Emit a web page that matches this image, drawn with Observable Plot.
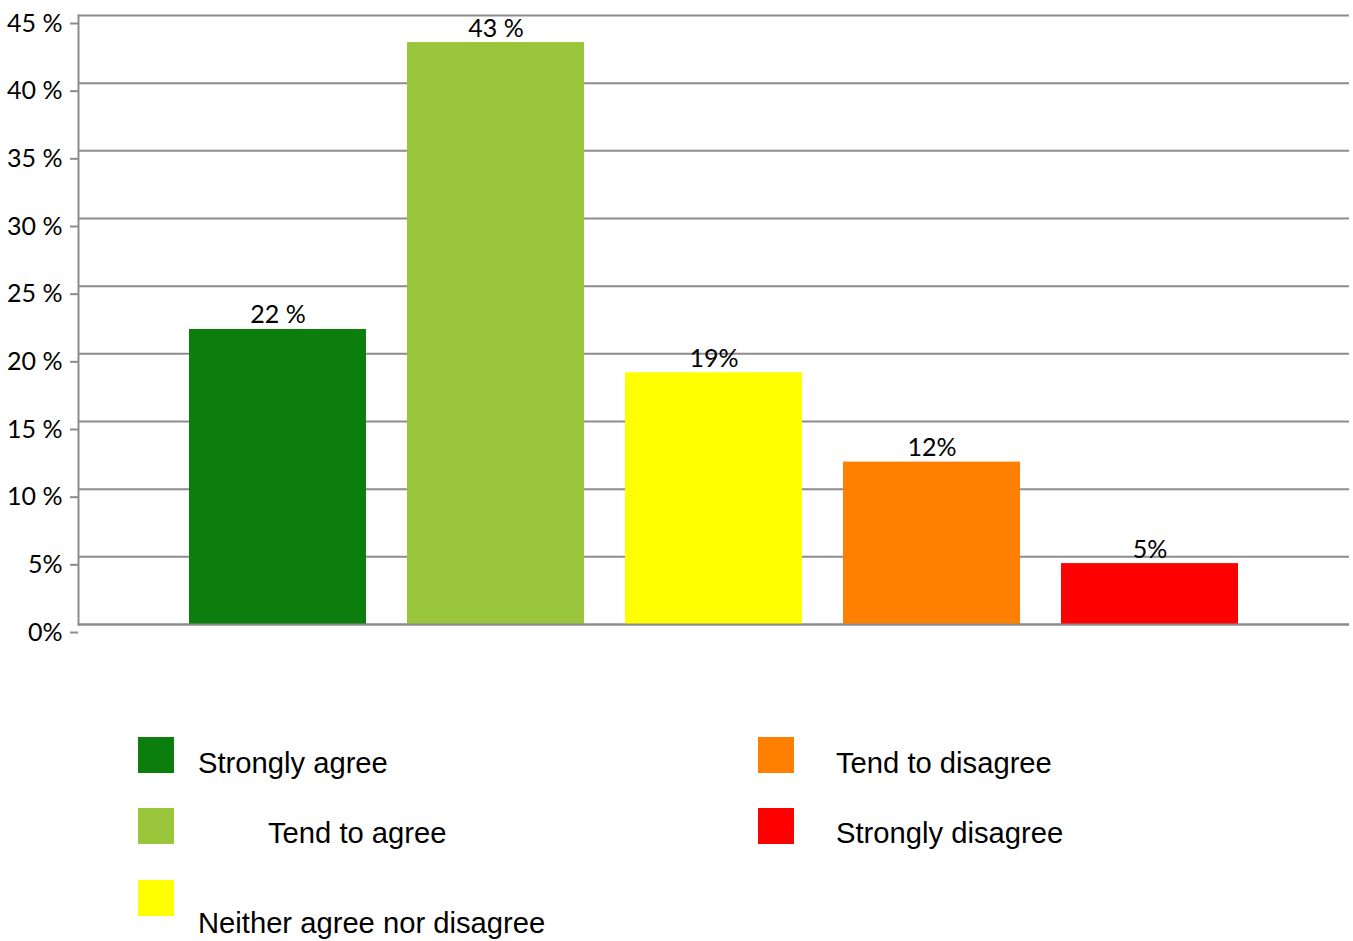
<!DOCTYPE html>
<html>
<head>
<meta charset="utf-8">
<script src="https://cdn.jsdelivr.net/npm/d3@7"></script>
<script src="https://cdn.jsdelivr.net/npm/@observablehq/plot@0.6"></script>
<style>
  html, body { margin: 0; padding: 0; background: #fff; }
  #wrap { position: relative; width: 1353px; height: 941px; overflow: hidden; }
  #chart svg { display: block; }
  .lg-sw { position: absolute; width: 36px; height: 36px; }
  .lg-tx { position: absolute; font-family: "Liberation Sans", Arial, sans-serif; font-size: 29.2px; line-height: 29px; color: #000; white-space: nowrap; }
</style>
</head>
<body>
<div id="wrap">
  <div id="chart"></div>
  <div id="legend"></div>
</div>
<script>
const categories = ["Strongly agree", "Tend to agree", "Neither agree nor disagree", "Tend to disagree", "Strongly disagree"];
const values = [21.8, 43.0, 18.6, 12.0, 4.5];
const valueLabels = ["22 %", "43 %", "19%", "12%", "5%"];
const colors = ["#0B7E0E", "#9AC63C", "#FFFF00", "#FF8000", "#FF0000"];
const yTicks = [0, 5, 10, 15, 20, 25, 30, 35, 40, 45];
const yTickLabels = ["0%", "5%", "10 %", "15 %", "20 %", "25 %", "30 %", "35 %", "40 %", "45 %"];

const data = categories.map((c, i) => ({category: c, value: values[i], label: valueLabels[i], color: colors[i]}));
const grid = "#8c8c8c";
const numFont = "Lato, 'Open Sans', sans-serif";

const chart = Plot.plot({
  width: 1353,
  height: 680,
  marginLeft: 78,
  marginRight: 4,
  marginTop: 15,
  marginBottom: 56,
  style: {background: "#fff", color: "#000"},
  x: {domain: categories, paddingInner: 0.19, paddingOuter: 0.5, axis: null},
  y: {domain: [0, 45], axis: null},
  marks: [
    Plot.gridY(yTicks, {stroke: grid, strokeOpacity: 1, strokeWidth: 2}),
    Plot.barY(data, {x: "category", y: "value", fill: "color"}),
    Plot.ruleY([0], {stroke: grid, strokeWidth: 2}),
    Plot.frame({anchor: "left", stroke: grid, strokeWidth: 2}),
    Plot.axisY(yTicks, {
      label: null,
      tickSize: 8,
      tickPadding: 8,
      stroke: grid,
      strokeWidth: 2,
      tickFormat: d => yTickLabels[yTicks.indexOf(d)],
      fontSize: 25,
      fontFamily: numFont,
      dy: 8,
      fill: "#000"
    }),
    Plot.text(data, {
      x: "category", y: "value", text: "label",
      lineAnchor: "bottom", dy: -6,
      fontSize: 25, fontFamily: numFont, fill: "#000"
    })
  ]
});
document.getElementById("chart").appendChild(chart);

// Legend (HTML, below the SVG)
const legendPos = [
  {sx: 138, sy: 737, tx: 198, base: 773},
  {sx: 138, sy: 808, tx: 268, base: 843},
  {sx: 138, sy: 880, tx: 198, base: 933},
  {sx: 758, sy: 737, tx: 836, base: 773},
  {sx: 758, sy: 808, tx: 836, base: 843}
];
const legend = document.getElementById("legend");
categories.forEach((c, i) => {
  const p = legendPos[i];
  const sw = document.createElement("div");
  sw.className = "lg-sw";
  sw.style.left = p.sx + "px";
  sw.style.top = p.sy + "px";
  sw.style.background = colors[i];
  legend.appendChild(sw);
  const tx = document.createElement("div");
  tx.className = "lg-tx";
  tx.style.left = p.tx + "px";
  tx.style.top = (p.base - 24.5) + "px";
  tx.textContent = c;
  legend.appendChild(tx);
});
</script>
</body>
</html>
